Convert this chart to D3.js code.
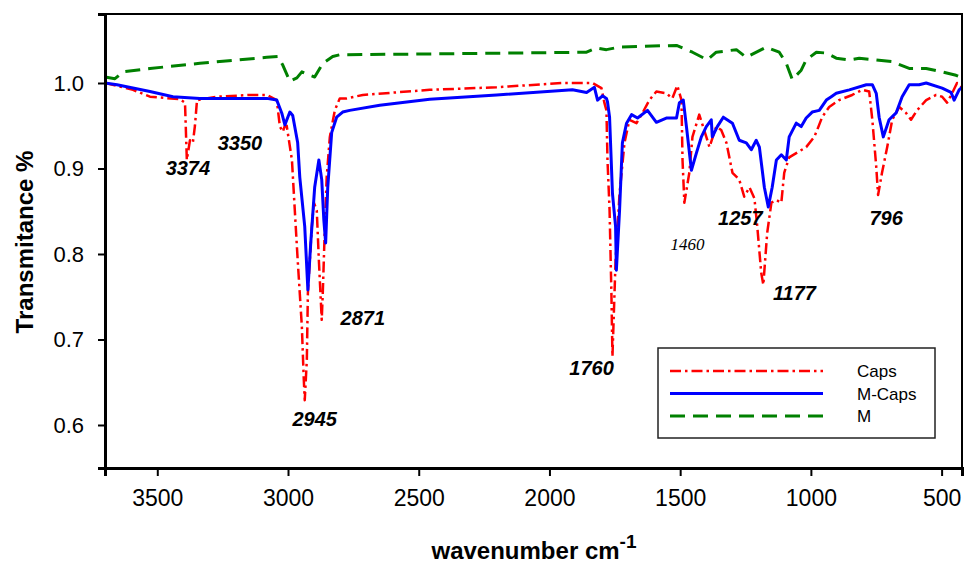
<html>
<head>
  <style>
  body { margin: 0; background: #fff; }
  #chart text { font-family: "Liberation Sans", Arial, sans-serif; fill: #000; }
  .peak { font-weight: bold; font-style: italic; font-size: 20px; text-anchor: middle; }
  </style>
  <script src="https://d3js.org/d3.v7.min.js"></script>
</head>
<body>
  <svg id="chart"></svg>
</body>
  <script>
  // wavenumber (cm-1) and transmittance
  var caps = [
    [3700,1.0],[3593,0.992],[3528,0.984],[3413,0.981],[3394,0.977],[3387,0.910],[3375,0.933],
    [3364,0.930],[3356,0.950],[3348,0.980],[3272,0.984],[3146,0.986],[3081,0.986],[3043,0.980],
    [3031,0.949],[3020,0.943],[3012,0.950],[3005,0.950],[2985,0.910],[2974,0.851],[2963,0.793],
    [2947,0.715],[2940,0.656],[2936,0.629],[2928,0.676],[2924,0.754],[2909,0.832],[2901,0.860],
    [2890,0.851],[2882,0.793],[2871,0.723],[2867,0.754],[2859,0.832],[2852,0.890],[2840,0.937],
    [2821,0.968],[2802,0.982],[2775,0.982],[2714,0.986],[2458,0.992],[2202,0.995],[1950,1.0],
    [1835,1.0],[1801,0.994],[1790,0.977],[1782,0.968],[1778,0.910],[1770,0.851],[1763,0.754],
    [1759,0.680],[1747,0.793],[1732,0.870],[1713,0.930],[1694,0.957],[1667,0.953],[1644,0.965],
    [1618,0.980],[1591,0.990],[1553,0.988],[1530,0.982],[1511,0.997],[1495,0.980],[1491,0.910],
    [1484,0.860],[1465,0.895],[1453,0.937],[1427,0.963],[1400,0.937],[1388,0.925],[1362,0.949],
    [1343,0.945],[1323,0.930],[1300,0.895],[1274,0.887],[1255,0.867],[1235,0.878],[1216,0.865],
    [1205,0.832],[1190,0.778],[1182,0.764],[1167,0.825],[1151,0.860],[1132,0.863],[1113,0.860],
    [1102,0.895],[1083,0.913],[1056,0.918],[1018,0.925],[987,0.937],[976,0.945],[957,0.960],
    [930,0.972],[892,0.980],[842,0.986],[804,0.992],[777,0.990],[765,0.957],[750,0.902],
    [743,0.869],[728,0.895],[708,0.925],[689,0.957],[662,0.972],[636,0.965],[617,0.957],
    [594,0.968],[559,0.980],[521,0.986],[498,0.984],[479,0.977],[460,0.988],[441,1.0],[422,0.995]
  ];
  var mCaps = [
    [3700,1.0],[3654,0.998],[3528,0.990],[3440,0.984],[3337,0.982],[3081,0.982],[3043,0.980],
    [3024,0.965],[3012,0.951],[2993,0.966],[2982,0.962],[2963,0.930],[2955,0.890],[2936,0.832],
    [2924,0.758],[2913,0.813],[2898,0.878],[2882,0.910],[2871,0.887],[2863,0.840],[2856,0.813],
    [2848,0.878],[2833,0.942],[2814,0.960],[2791,0.966],[2764,0.968],[2649,0.974],[2458,0.981],
    [2202,0.986],[1912,0.992],[1858,0.989],[1828,0.995],[1816,0.980],[1797,0.985],[1782,0.982],
    [1778,0.978],[1770,0.960],[1759,0.871],[1747,0.832],[1744,0.781],[1732,0.850],[1721,0.930],
    [1705,0.953],[1686,0.963],[1663,0.959],[1625,0.968],[1591,0.954],[1553,0.959],[1514,0.959],
    [1503,0.977],[1488,0.980],[1476,0.949],[1457,0.898],[1438,0.918],[1419,0.937],[1400,0.949],
    [1381,0.957],[1377,0.937],[1358,0.949],[1335,0.960],[1300,0.953],[1274,0.933],[1247,0.930],
    [1228,0.922],[1209,0.933],[1197,0.925],[1178,0.878],[1163,0.855],[1148,0.878],[1132,0.910],
    [1113,0.916],[1094,0.910],[1083,0.937],[1056,0.953],[1037,0.949],[1018,0.959],[995,0.966],
    [968,0.968],[941,0.980],[922,0.984],[903,0.988],[853,0.992],[788,0.998],[765,0.998],
    [750,0.988],[739,0.960],[723,0.937],[701,0.957],[674,0.965],[651,0.984],[624,0.998],
    [586,0.998],[559,1.0],[498,0.994],[464,0.989],[452,0.980],[433,0.992],[422,0.995]
  ];
  var m = [
    [3700,1.007],[3662,1.005],[3631,1.013],[3528,1.017],[3337,1.023],[3081,1.030],[3039,1.031],
    [3020,1.021],[2993,1.002],[2966,1.006],[2947,1.013],[2917,1.009],[2898,1.007],[2867,1.023],
    [2829,1.031],[2802,1.033],[2458,1.034],[2141,1.035],[1858,1.036],[1820,1.041],[1782,1.039],
    [1732,1.042],[1514,1.044],[1453,1.036],[1396,1.027],[1362,1.036],[1285,1.039],[1247,1.030],
    [1171,1.042],[1121,1.036],[1094,1.023],[1071,1.004],[1037,1.015],[1018,1.027],[979,1.036],
    [941,1.035],[903,1.029],[853,1.027],[815,1.029],[750,1.027],[689,1.025],[624,1.017],
    [559,1.017],[498,1.013],[445,1.009],[422,1.006]
  ];
  var seriesNames = ["Caps", "M-Caps", "M"];
  var xTicks = [3500, 3000, 2500, 2000, 1500, 1000, 500];
  var yTicks = [0.6, 0.7, 0.8, 0.9, 1.0];
  // peak labels: text, wavenumber, transmittance where the label sits
  var peakText = ["3374", "3350", "2945", "2871", "1760", "1460", "1257", "1177", "796"];
  var peakX = [3383, 3184, 2898, 2714, 1839, 1472, 1270, 1063, 712];
  var peakY = [0.892, 0.922, 0.599, 0.717, 0.658, 0.805, 0.834, 0.746, 0.834];

  var width = 964, height = 569;
  var pLeft = 105, pRight = 962, pTop = 14, pBottom = 468;

  var x = d3.scaleLinear().domain([3700, 422]).range([pLeft, pRight]);
  var y = d3.scaleLinear().domain([0.5497, 1.0807]).range([pBottom, pTop]);

  var svg = d3.select("#chart").attr("width", width).attr("height", height);

  svg.append("clipPath").attr("id", "plot")
    .append("rect").attr("x", pLeft).attr("y", pTop)
    .attr("width", pRight - pLeft).attr("height", pBottom - pTop);

  var line = d3.line().x(function(d) { return x(d[0]); }).y(function(d) { return y(d[1]); });

  var styles = [
    { data: caps, color: "#ff0000", w: 2.5, dash: "11,4,2.5,4" },
    { data: mCaps, color: "#0000ff", w: 3, dash: null },
    { data: m, color: "#008000", w: 3, dash: "15,8" }
  ];

  // draw the green first, then red, blue on top
  [2, 0, 1].forEach(function(i) {
    var s = styles[i];
    svg.append("path")
      .datum(s.data)
      .attr("clip-path", "url(#plot)")
      .attr("fill", "none")
      .attr("stroke", s.color)
      .attr("stroke-width", s.w)
      .attr("stroke-dasharray", s.dash)
      .attr("stroke-linejoin", "round")
      .attr("d", line);
  });

  // frame
  svg.append("rect")
    .attr("x", pLeft).attr("y", pTop)
    .attr("width", pRight - pLeft).attr("height", pBottom - pTop)
    .attr("fill", "none").attr("stroke", "#000").attr("stroke-width", 2);

  var xAxis = svg.append("g")
    .attr("transform", "translate(0," + pBottom + ")")
    .call(d3.axisBottom(x).tickValues(xTicks).tickSize(8).tickPadding(14).tickFormat(d3.format("d")));
  xAxis.selectAll("text").style("font-size", "23px");

  var yAxis = svg.append("g")
    .attr("transform", "translate(" + pLeft + ",0)")
    .call(d3.axisLeft(y).tickValues(yTicks).tickSize(7).tickPadding(14).tickFormat(d3.format(".1f")));
  yAxis.selectAll("text").style("font-size", "22px");

  svg.selectAll(".domain").attr("stroke-width", 3);
  svg.selectAll(".tick line").attr("stroke-width", 2);

  // axis titles
  var xt = svg.append("text")
    .attr("x", 534).attr("y", 559)
    .attr("text-anchor", "middle")
    .style("font-size", "24px").style("font-weight", "bold");
  xt.append("tspan").text("wavenumber cm");
  xt.append("tspan").attr("dy", -11).style("font-size", "19px").text("-1");

  svg.append("text")
    .attr("transform", "translate(33,242) rotate(-90)")
    .attr("text-anchor", "middle")
    .style("font-size", "24px").style("font-weight", "bold")
    .text("Transmitance %");

  // peak labels
  peakText.forEach(function(t, i) {
    var lbl = svg.append("text")
      .attr("class", "peak")
      .attr("x", x(peakX[i])).attr("y", y(peakY[i]))
      .text(t);
    if (t === "1460") {
      lbl.style("font-family", "'Liberation Serif', 'Times New Roman', serif")
        .style("font-weight", "normal").style("font-size", "17px");
    }
  });

  // legend
  var lg = svg.append("g").attr("transform", "translate(658,348)");
  lg.append("rect").attr("width", 277).attr("height", 90)
    .attr("fill", "#fff").attr("stroke", "#222").attr("stroke-width", 1.5);
  seriesNames.forEach(function(name, i) {
    var s = styles[i];
    var ly = 23 + i * 22.5;
    lg.append("line")
      .attr("x1", 12).attr("x2", 165).attr("y1", ly).attr("y2", ly)
      .attr("stroke", s.color).attr("stroke-width", s.w)
      .attr("stroke-dasharray", s.dash);
    lg.append("text")
      .attr("x", 199).attr("y", ly + 6)
      .style("font-size", "17px")
      .text(name);
  });
  </script>
</html>
